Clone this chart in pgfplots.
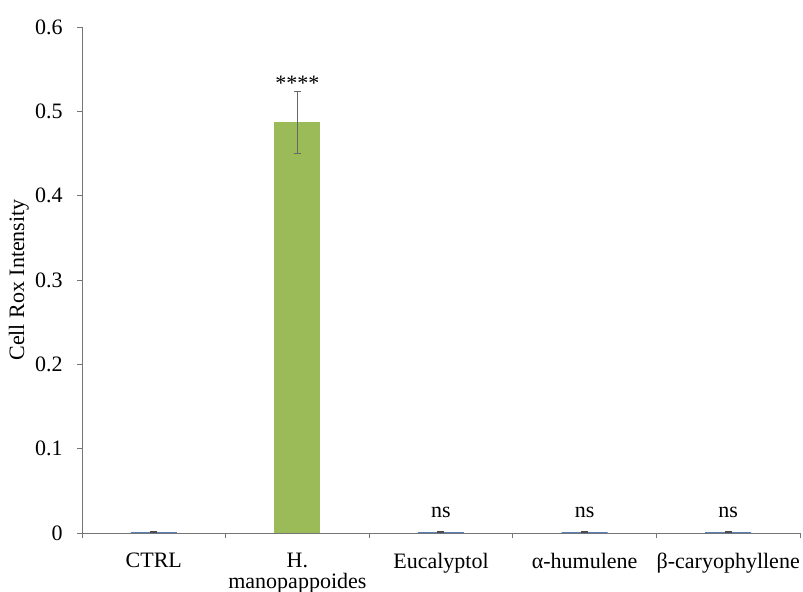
\documentclass[border=0pt]{standalone}
\usepackage{pgfplots}
\pgfplotsset{compat=1.18}
\usepackage{fontspec}
\setmainfont{Liberation Serif}
\definecolor{bargreen}{HTML}{9BBB59}
\definecolor{barblue}{HTML}{5B7FB0}
\definecolor{axgray}{HTML}{757575}
\begin{document}
\fontsize{11}{11}\selectfont
\begin{tikzpicture}
\useasboundingbox (-41pt,-29pt) rectangle (360.5pt,266.5pt);
\begin{axis}[
  at={(0,0)}, anchor=south west,
  scale only axis, width=359pt, height=253pt,
  xmin=-0.5, xmax=4.5, ymin=0, ymax=0.6,
  axis lines=left, axis line style={axgray, -},
  xtick={-0.5,0.5,1.5,2.5,3.5,4.5},
  x tick label as interval,
  xticklabels={CTRL,{H.\\manopappoides},Eucalyptol,{α-humulene},{β-caryophyllene}},
  xticklabel style={align=center, inner sep=0pt, yshift=-7.5pt, font=\fontsize{11}{10.2}\selectfont},
  ytick={0,0.1,...,0.6},
  yticklabels={0,0.1,0.2,0.3,0.4,0.5,0.6},
  yticklabel style={inner sep=0pt, xshift=-7pt},
  tick align=outside, major tick length=2.5pt,
  tick style={axgray, thin},
  ylabel={Cell Rox Intensity},
  ylabel style={at={(axis description cs:-0.088,0.5)}, anchor=center},
  ybar, bar width=23pt, bar shift=0pt,
  every node near coord/.append style={anchor=base, font=\fontsize{11}{11}\selectfont},
]
\addplot[fill=barblue, draw=none, error bars/.cd, y dir=both, y explicit,
  error bar style={black!70, thin}, error mark options={mark size=1.75pt, black!70, rotate=90}]
  coordinates {(0,0.001) +- (0,0.0005) (2,0.001) +- (0,0.0005) (3,0.001) +- (0,0.0005) (4,0.001) +- (0,0.0005)};
\addplot[fill=bargreen, draw=none, error bars/.cd, y dir=both, y explicit,
  error bar style={black!60, thin}, error mark options={mark size=1.75pt, black!60, rotate=90}]
  coordinates {(1,0.487) +- (0,0.037)};
\addplot[draw=none, fill=none, bar width=0pt, nodes near coords, point meta=explicit symbolic]
  coordinates {(1,0.525)[****] (2,0.018)[ns] (3,0.018)[ns] (4,0.018)[ns]};
\end{axis}
\end{tikzpicture}
\end{document}
